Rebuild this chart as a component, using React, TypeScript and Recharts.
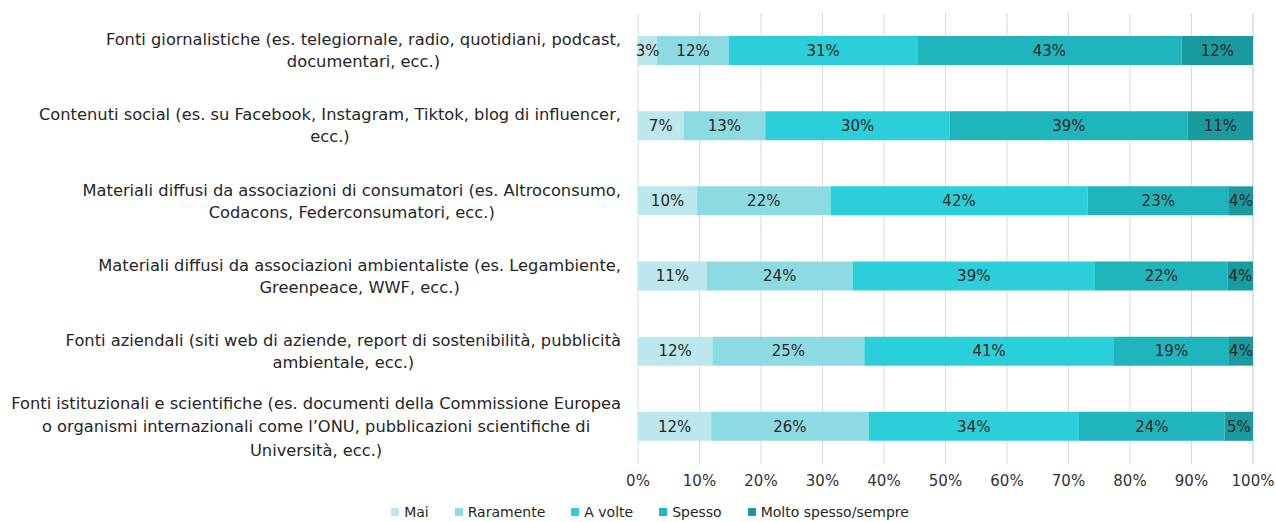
import { BarChart, Bar, XAxis, YAxis, CartesianGrid, Legend, LabelList } from 'recharts'

const categories = [
  'Fonti giornalistiche (es. telegiornale, radio, quotidiani, podcast,\ndocumentari, ecc.)',
  'Contenuti social (es. su Facebook, Instagram, Tiktok, blog di influencer,\necc.)',
  'Materiali diffusi da associazioni di consumatori (es. Altroconsumo,\nCodacons, Federconsumatori, ecc.)',
  'Materiali diffusi da associazioni ambientaliste (es. Legambiente,\nGreenpeace, WWF, ecc.)',
  'Fonti aziendali (siti web di aziende, report di sostenibilità, pubblicità\nambientale, ecc.)',
  'Fonti istituzionali e scientifiche (es. documenti della Commissione Europea\no organismi internazionali come l’ONU, pubblicazioni scientifiche di\nUniversità, ecc.)',
]

const mai = [3.1, 7.4, 9.6, 11.2, 12.1, 11.9]
const raramente = [11.7, 13.3, 21.7, 23.7, 24.7, 25.6]
const aVolte = [30.6, 30.0, 41.8, 39.4, 40.6, 34.2]
const spesso = [43.0, 38.7, 23.0, 21.6, 18.7, 23.7]
const moltoSpesso = [11.6, 10.6, 3.9, 4.1, 3.9, 4.6]

const xTicks = [0, 10, 20, 30, 40, 50, 60, 70, 80, 90, 100]

const series = [
  { key: 'mai', name: 'Mai', color: '#bce7ec', values: mai },
  { key: 'raramente', name: 'Raramente', color: '#8ddbe2', values: raramente },
  { key: 'aVolte', name: 'A volte', color: '#2acfd9', values: aVolte },
  { key: 'spesso', name: 'Spesso', color: '#20b4bc', values: spesso },
  { key: 'moltoSpesso', name: 'Molto spesso/sempre', color: '#1a999f', values: moltoSpesso },
]

const data = categories.map((cat, i) => {
  const row: Record<string, any> = { cat }
  series.forEach((s) => {
    row[s.key] = s.values[i]
  })
  return row
})

const font = '"DejaVu Sans", sans-serif'
const labelSize = 16.3

let ctx: CanvasRenderingContext2D | null = null
function textWidth(t: string) {
  if (!ctx) {
    ctx = document.createElement('canvas').getContext('2d')
    if (ctx) ctx.font = `${labelSize}px "DejaVu Sans"`
  }
  return ctx ? ctx.measureText(t).width : t.length * 8
}

// lines centred inside a box that is right aligned to the plot
function CategoryTick({ y, payload }: any) {
  const lines = String(payload.value).split('\n')
  const w = Math.max(...lines.map(textWidth))
  const cx = 621 - w / 2
  const lh = lines.length > 2 ? 23.5 : 22
  const start = y - ((lines.length - 1) * lh) / 2
  return (
    <text x={cx} y={start} textAnchor="middle" fill="#262626" fontSize={labelSize} fontFamily={font}>
      {lines.map((l, i) => (
        <tspan key={i} x={cx} y={start + i * lh} dy="0.35em">
          {l}
        </tspan>
      ))}
    </text>
  )
}

function LegendContent() {
  return (
    <div
      style={{
        display: 'flex',
        justifyContent: 'center',
        paddingLeft: 24,
        gap: 26,
        fontFamily: font,
        fontSize: 14,
        color: '#262626',
      }}
    >
      {series.map((s) => (
        <div key={s.key} style={{ display: 'flex', alignItems: 'center' }}>
          <span style={{ width: 8, height: 8, background: s.color, marginRight: 5, display: 'inline-block' }} />
          <span>{s.name}</span>
        </div>
      ))}
    </div>
  )
}

export default function App() {
  return (
    <div style={{ position: 'absolute', left: 0, top: 0, background: '#fff' }}>
      <BarChart
        width={1276}
        height={522}
        data={data}
        layout="vertical"
        margin={{ top: 13, right: 23, left: 0, bottom: 0 }}
        barSize={29}
      >
        <CartesianGrid horizontal={false} stroke="#d9d9d9" />
        <XAxis
          type="number"
          domain={[0, 100]}
          ticks={xTicks}
          tickFormatter={(v) => `${v}%`}
          axisLine={false}
          tickLine={false}
          tick={{ fontSize: 15, fill: '#333333', fontFamily: font }}
          tickMargin={5}
          height={42}
        />
        <YAxis
          type="category"
          dataKey="cat"
          width={638}
          axisLine={false}
          tickLine={false}
          tick={<CategoryTick />}
          interval={0}
        />
        <Legend
          verticalAlign="bottom"
          content={<LegendContent />}
          wrapperStyle={{ left: 0, width: 1276, bottom: 2 }}
        />
        {series.map((s) => (
          <Bar key={s.key} dataKey={s.key} name={s.name} stackId="a" fill={s.color} isAnimationActive={false}>
            <LabelList
              dataKey={s.key}
              position="center"
              formatter={(v: any) => `${Math.round(Number(v))}%`}
              style={{ fontSize: 15, fill: '#262626', fontFamily: font }}
            />
          </Bar>
        ))}
      </BarChart>
    </div>
  )
}
